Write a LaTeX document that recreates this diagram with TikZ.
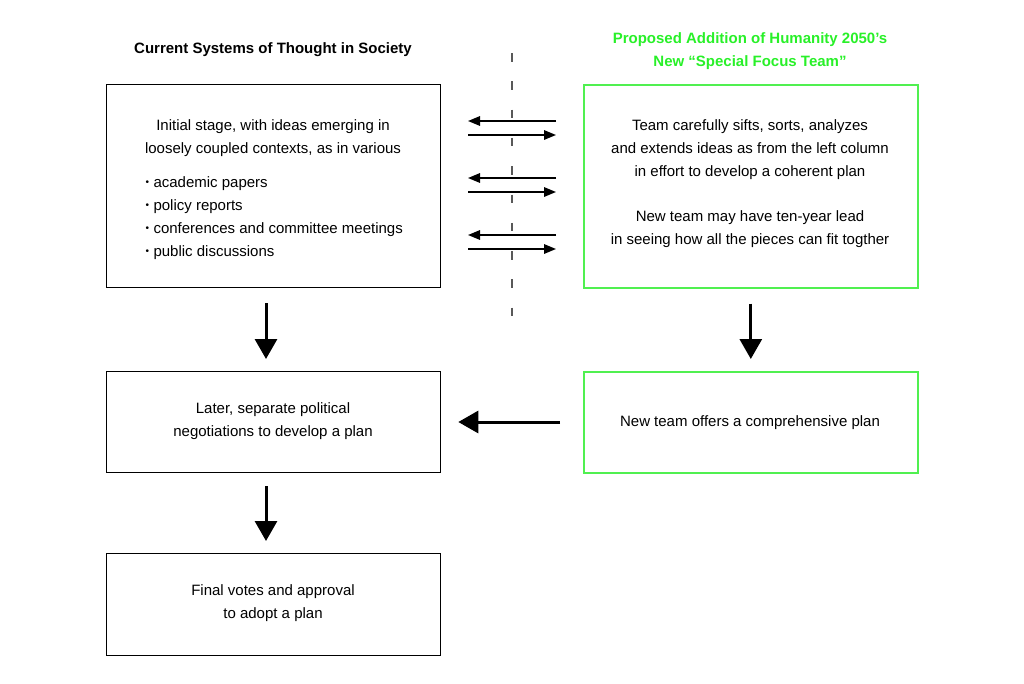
\documentclass[tikz,border=0pt]{standalone}
\usepackage{fontspec}
\setmainfont{Liberation Sans}
\usetikzlibrary{arrows.meta}
\definecolor{tgreen}{RGB}{40,240,40}
\definecolor{bgreen}{RGB}{80,240,80}
\newcommand{\smbul}{\makebox[8pt][l]{\raisebox{1.8pt}{\fontsize{10}{10}\selectfont •}}}
\begin{document}
\begin{tikzpicture}[x=1pt,y=-1pt,
  box/.style={draw=black,line width=1.3pt,minimum width=334pt,anchor=north west,inner sep=0pt},
  gbox/.style={box,draw=bgreen,line width=1.6pt},
  txt/.style={font=\fontsize{15}{23}\selectfont,align=center},
  bigarrow/.style={line width=3pt,-{Triangle[length=20pt,width=22pt]}},
  thinarrow/.style={line width=1.6pt,-{Triangle[length=12pt,width=9.5pt]}}]
\useasboundingbox (0,0) rectangle (1024,683);
% headers
\node[font=\fontsize{15}{23}\selectfont\bfseries] (h1) at (273,50) {Current Systems of Thought in Society};
\node[font=\fontsize{15}{23}\selectfont\bfseries,text=tgreen,align=center] (h2) at (750,51) {Proposed Addition of Humanity 2050’s\\New “Special Focus Team”};
% dashed divider
\coordinate (dt) at (512,53);
\coordinate (db) at (512,318);
\draw[line width=1.3pt,dash pattern=on 8.5pt off 19.8pt,gray!70!black] (dt) -- (db);
% boxes
\node[box,minimum height=203pt] (A) at (106,84) {};
\node[gbox,minimum height=203pt] (B) at (583,84) {};
\node[box,minimum height=101pt] (C) at (106,371) {};
\node[gbox,minimum height=101pt] (D) at (583,371) {};
\node[box,minimum height=102pt] (E) at (106,553) {};
% texts
\node[txt] (ta) at (273,138.5) {Initial stage, with ideas emerging in\\loosely coupled contexts, as in various};
\node[txt,align=left,anchor=west] (tb) at (142,218) {\smbul academic papers\\\smbul policy reports\\\smbul conferences and committee meetings\\\smbul public discussions};
\node[txt] (tB1) at (750,150) {Team carefully sifts, sorts, analyzes\\and extends ideas as from the left column\\in effort to develop a coherent plan};
\node[txt] (tB2) at (750,229.5) {New team may have ten-year lead\\in seeing how all the pieces can fit togther};
\node[txt] (tC) at (273,421.5) {Later, separate political\\negotiations to develop a plan};
\node[txt] (tD) at (750,423) {New team offers a comprehensive plan};
\node[txt] (tE) at (273,603.5) {Final votes and approval\\to adopt a plan};
% thin arrows between columns
\foreach \y in {121,178,235}{
  \draw[thinarrow] (556,\y) -- (468,\y);
  \draw[thinarrow] (468,\y+14) -- (556,\y+14);
}
% big arrows
\draw[bigarrow] ([yshift=-15pt]A.south -| 266,0) -- ([yshift=12pt]C.north -| 266,0);
\draw[bigarrow] ([yshift=-15pt]B.south) -- ([yshift=12pt]D.north);
\draw[bigarrow] ([yshift=-13pt]C.south -| 266,0) -- ([yshift=12pt]E.north -| 266,0);
\draw[bigarrow] ([xshift=-23pt]D.west |- 0,422) -- ([xshift=17pt]C.east |- 0,422);
\end{tikzpicture}
\end{document}
